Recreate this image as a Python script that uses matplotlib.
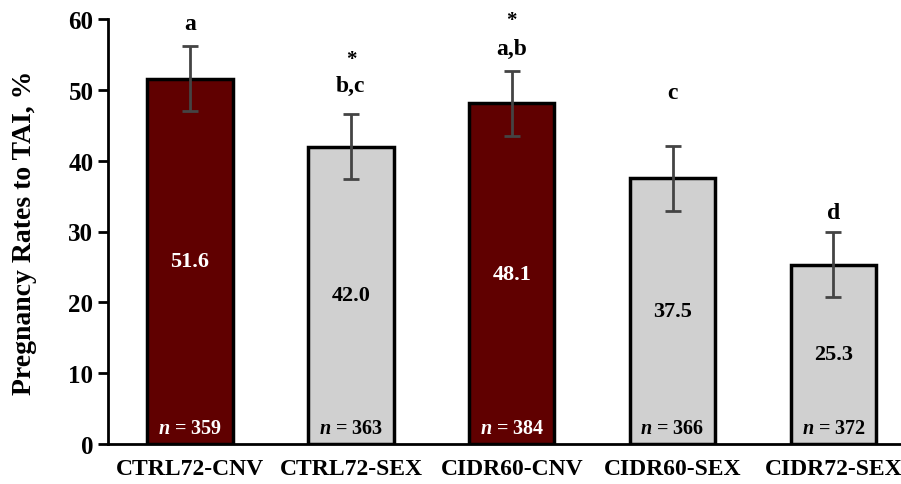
import matplotlib
matplotlib.use("Agg")
import matplotlib.pyplot as plt
import numpy as np

categories = ["CTRL72-CNV", "CTRL72-SEX", "CIDR60-CNV", "CIDR60-SEX", "CIDR72-SEX"]
rates = [51.6, 42.0, 48.1, 37.5, 25.3]
errors = [4.6, 4.6, 4.6, 4.6, 4.6]
n_values = [359, 363, 384, 366, 372]
letters = ["a", "b,c", "a,b", "c", "d"]
stars = ["", "*", "*", "", ""]
bar_colors = ["#600000", "#D0D0D0", "#600000", "#D0D0D0", "#D0D0D0"]
text_colors = ["white", "black", "white", "black", "black"]
letter_y = [59.4, 50.6, 55.9, 49.6, 32.7]
star_y = [None, 54.4, 59.9, None, None]

plt.rcParams['font.family'] = ['Liberation Serif', 'DejaVu Serif']
plt.rcParams['font.weight'] = 'bold'
plt.rcParams['mathtext.fontset'] = 'custom'
plt.rcParams['mathtext.bfit'] = 'Liberation Serif:italic:bold'
plt.rcParams['mathtext.it'] = 'Liberation Serif:italic:bold'
plt.rcParams['mathtext.rm'] = 'Liberation Serif:bold'

fig = plt.figure(figsize=(9.01, 4.85), dpi=100)
ax = fig.add_axes([108/901, 1-445/485, 1-108/901, (445-20)/485])

x = np.arange(len(categories))
ax.bar(x, rates, width=0.53, color=bar_colors, edgecolor="black", linewidth=2.5, zorder=2)
ax.errorbar(x, rates, yerr=errors, fmt="none", ecolor="#444444", elinewidth=2,
            capsize=6, capthick=2, zorder=3)

for i in range(len(x)):
    ax.text(x[i], rates[i] / 2, f"{rates[i]:.1f}", ha="center", va="center",
            fontsize=16, fontweight="bold", color=text_colors[i], zorder=4)
    ax.text(x[i], 2.3, r"$\mathit{n}$" + f" = {n_values[i]}", ha="center", va="center",
            fontsize=14.5, fontweight="bold", color=text_colors[i], zorder=4)
    ax.text(x[i], letter_y[i], letters[i], ha="center", va="center",
            fontsize=17, fontweight="bold", color="black")
    if stars[i]:
        ax.text(x[i], star_y[i], stars[i], ha="center", va="center",
                fontsize=15, fontweight="bold", color="black")

ax.set_xlim(-0.51, 4.42)
ax.set_ylim(0, 60)
ax.set_yticks([0, 10, 20, 30, 40, 50, 60])
ax.set_xticks(x)
ax.set_xticklabels(categories, fontsize=17, fontweight="bold")
ax.tick_params(axis="x", length=0, pad=10)
ax.tick_params(axis="y", labelsize=18, length=7, width=2, direction="out")
for lbl in ax.get_yticklabels():
    lbl.set_fontweight("bold")
ax.spines["top"].set_visible(False)
ax.spines["right"].set_visible(False)
ax.spines["left"].set_linewidth(2)
ax.spines["bottom"].set_linewidth(2)
ax.set_ylabel("Pregnancy Rates to TAI, %", fontsize=20, fontweight="bold")
ax.yaxis.set_label_coords(-0.09, 0.5)

fig.savefig("out.png", dpi=100)
